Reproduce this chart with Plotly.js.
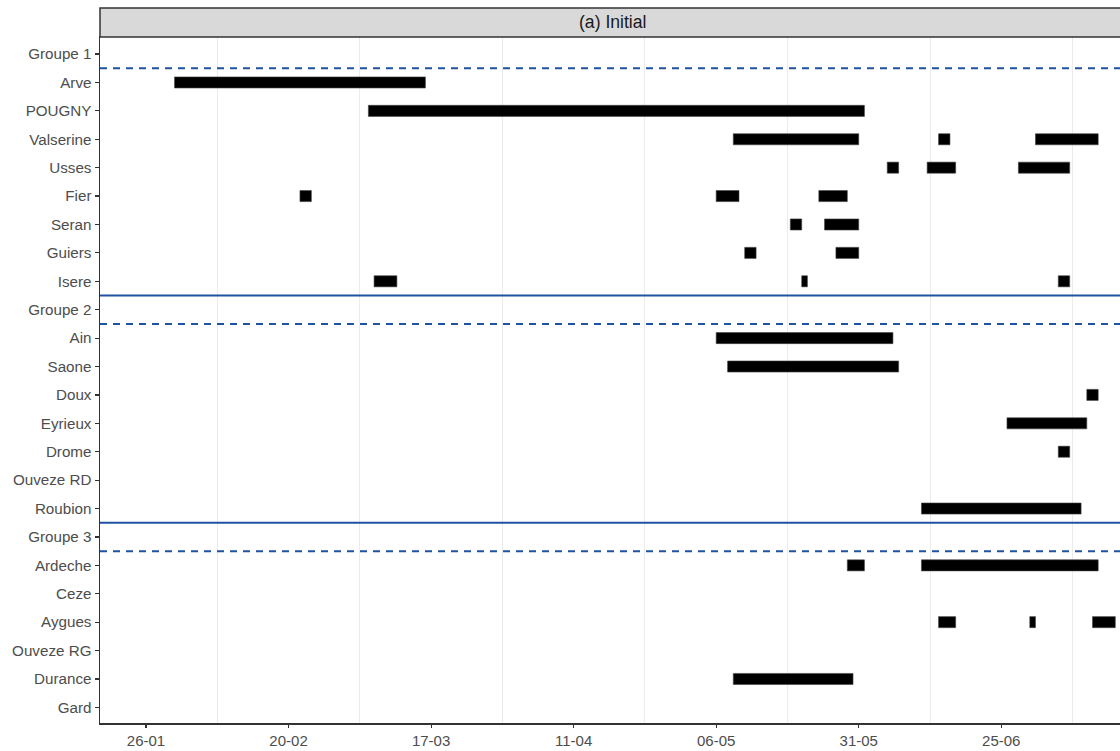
<!DOCTYPE html>
<html>
<head>
<meta charset="utf-8">
<script src="https://cdn.plot.ly/plotly-3.0.1.min.js"></script>
<style>
  html, body { margin: 0; padding: 0; overflow: hidden; background: #fff; }
  #chart { width: 1130px; height: 751px; }
</style>
</head>
<body>
<div id="chart"></div>
<script>
// Categories (top to bottom)
const stations = ["Groupe 1", "Arve", "POUGNY", "Valserine", "Usses", "Fier", "Seran", "Guiers", "Isere",
  "Groupe 2", "Ain", "Saone", "Doux", "Eyrieux", "Drome", "Ouveze RD", "Roubion",
  "Groupe 3", "Ardeche", "Ceze", "Aygues", "Ouveze RG", "Durance", "Gard"];

// Periods (station, start date, end date)
const segStation = ["Arve", "POUGNY",
  "Valserine", "Valserine", "Valserine",
  "Usses", "Usses", "Usses",
  "Fier", "Fier", "Fier",
  "Seran", "Seran",
  "Guiers", "Guiers",
  "Isere", "Isere", "Isere",
  "Ain", "Saone", "Doux", "Eyrieux", "Drome", "Roubion",
  "Ardeche", "Ardeche",
  "Aygues", "Aygues", "Aygues",
  "Durance"];
const segStart = ["2021-01-31", "2021-03-06",
  "2021-05-09", "2021-06-14", "2021-07-01",
  "2021-06-05", "2021-06-12", "2021-06-28",
  "2021-02-22", "2021-05-06", "2021-05-24",
  "2021-05-19", "2021-05-25",
  "2021-05-11", "2021-05-27",
  "2021-03-07", "2021-05-21", "2021-07-05",
  "2021-05-06", "2021-05-08", "2021-07-10", "2021-06-26", "2021-07-05", "2021-06-11",
  "2021-05-29", "2021-06-11",
  "2021-06-14", "2021-06-30", "2021-07-11",
  "2021-05-09"];
const segEnd = ["2021-03-16", "2021-06-01",
  "2021-05-31", "2021-06-16", "2021-07-12",
  "2021-06-07", "2021-06-17", "2021-07-07",
  "2021-02-24", "2021-05-10", "2021-05-29",
  "2021-05-21", "2021-05-31",
  "2021-05-13", "2021-05-31",
  "2021-03-11", "2021-05-22", "2021-07-07",
  "2021-06-06", "2021-06-07", "2021-07-12", "2021-07-10", "2021-07-07", "2021-07-09",
  "2021-06-01", "2021-07-12",
  "2021-06-17", "2021-07-01", "2021-07-15",
  "2021-05-30"];

// X ticks (labelled) and grid positions (between labelled ticks)
const tickDates = ["2021-01-26", "2021-02-20", "2021-03-17", "2021-04-11", "2021-05-06", "2021-05-31", "2021-06-25"];
const tickLabels = ["26-01", "20-02", "17-03", "11-04", "06-05", "31-05", "25-06"];
const gridDates = ["2021-02-07 12:00", "2021-03-04 12:00", "2021-03-29 12:00", "2021-04-23 12:00",
  "2021-05-18 12:00", "2021-06-12 12:00", "2021-07-07 12:00"];

// Group separators (positions between categories)
const solidSeps = [8.5, 16.5];
const dashedSeps = [0.5, 9.5, 17.5];

const xRange = ["2021-01-17 22:20", "2021-07-16 16:48"];

const toMs = s => new Date(s + "T00:00:00Z").getTime();
const durations = segStart.map((s, i) => toMs(segEnd[i]) - toMs(s));

const trace = {
  type: "bar",
  orientation: "h",
  y: segStation,
  x: durations,
  base: segStart,
  width: 0.39,
  marker: { color: "#000000", line: { color: "#444444", width: 0.6 } },
  hoverinfo: "skip",
  showlegend: false
};

// Dummy traces so every category exists and the labelled axis is drawn
const catTrace = {
  type: "scatter", mode: "markers", x: stations.map(() => null), y: stations,
  hoverinfo: "skip", showlegend: false
};
const labelTrace = {
  type: "scatter", mode: "markers", x: [null], y: [null], xaxis: "x2", yaxis: "y",
  hoverinfo: "skip", showlegend: false
};

const sepColor = "#1F52A0";
const shapes = [];
solidSeps.forEach(v => shapes.push({
  type: "line", xref: "paper", x0: 0, x1: 1, yref: "y", y0: v, y1: v,
  line: { color: sepColor, width: 2 }
}));
dashedSeps.forEach(v => shapes.push({
  type: "line", xref: "paper", x0: 0, x1: 1, yref: "y", y0: v, y1: v,
  line: { color: sepColor, width: 2, dash: "7px,6px" }
}));
// facet strip
shapes.push({
  type: "rect", xref: "paper", yref: "paper", x0: 0, x1: 1, y0: 1, y1: 1 + 29 / 686,
  fillcolor: "#D9D9D9", line: { color: "#333333", width: 1.5 }, layer: "above"
});

const layout = {
  width: 1130, height: 751,
  margin: { l: 100, r: 5, t: 37, b: 28 },
  paper_bgcolor: "#ffffff", plot_bgcolor: "#ffffff",
  font: { family: "Liberation Sans, Arial, sans-serif", size: 15, color: "#4D4D4D" },
  barmode: "overlay",
  xaxis: {
    type: "date",
    range: xRange,
    tickvals: gridDates,
    showticklabels: false, ticks: "",
    showgrid: true, gridcolor: "#EBEBEB", gridwidth: 1,
    zeroline: false,
    showline: true, linecolor: "#333333", linewidth: 1.5, mirror: true,
    automargin: false
  },
  xaxis2: {
    type: "date",
    overlaying: "x", anchor: "y", side: "bottom",
    range: xRange,
    tickvals: tickDates, ticktext: tickLabels,
    showgrid: false, zeroline: false, showline: false,
    ticks: "outside", ticklen: 4, tickwidth: 1.2, tickcolor: "#333333",
    tickfont: { size: 15, color: "#4D4D4D" },
    automargin: false
  },
  yaxis: {
    type: "category",
    categoryorder: "array", categoryarray: stations,
    tickvals: stations,
    range: [23.55, -0.6],
    showgrid: false, zeroline: false,
    ticks: "outside", ticklen: 4, tickwidth: 1.2, tickcolor: "#333333",
    showline: true, linecolor: "#333333", linewidth: 1.5, mirror: true,
    tickfont: { size: 15.2, color: "#4D4D4D" },
    automargin: false
  },
  shapes: shapes,
  annotations: [{
    xref: "paper", yref: "paper", x: 0.5, y: 1 + 14.5 / 686, xanchor: "center", yanchor: "middle",
    text: "(a) Initial", showarrow: false, font: { size: 17.6, color: "#1A1A1A" }
  }]
};

Plotly.newPlot("chart", [catTrace, trace, labelTrace], layout, { staticPlot: true, displayModeBar: false });
</script>
</body>
</html>
